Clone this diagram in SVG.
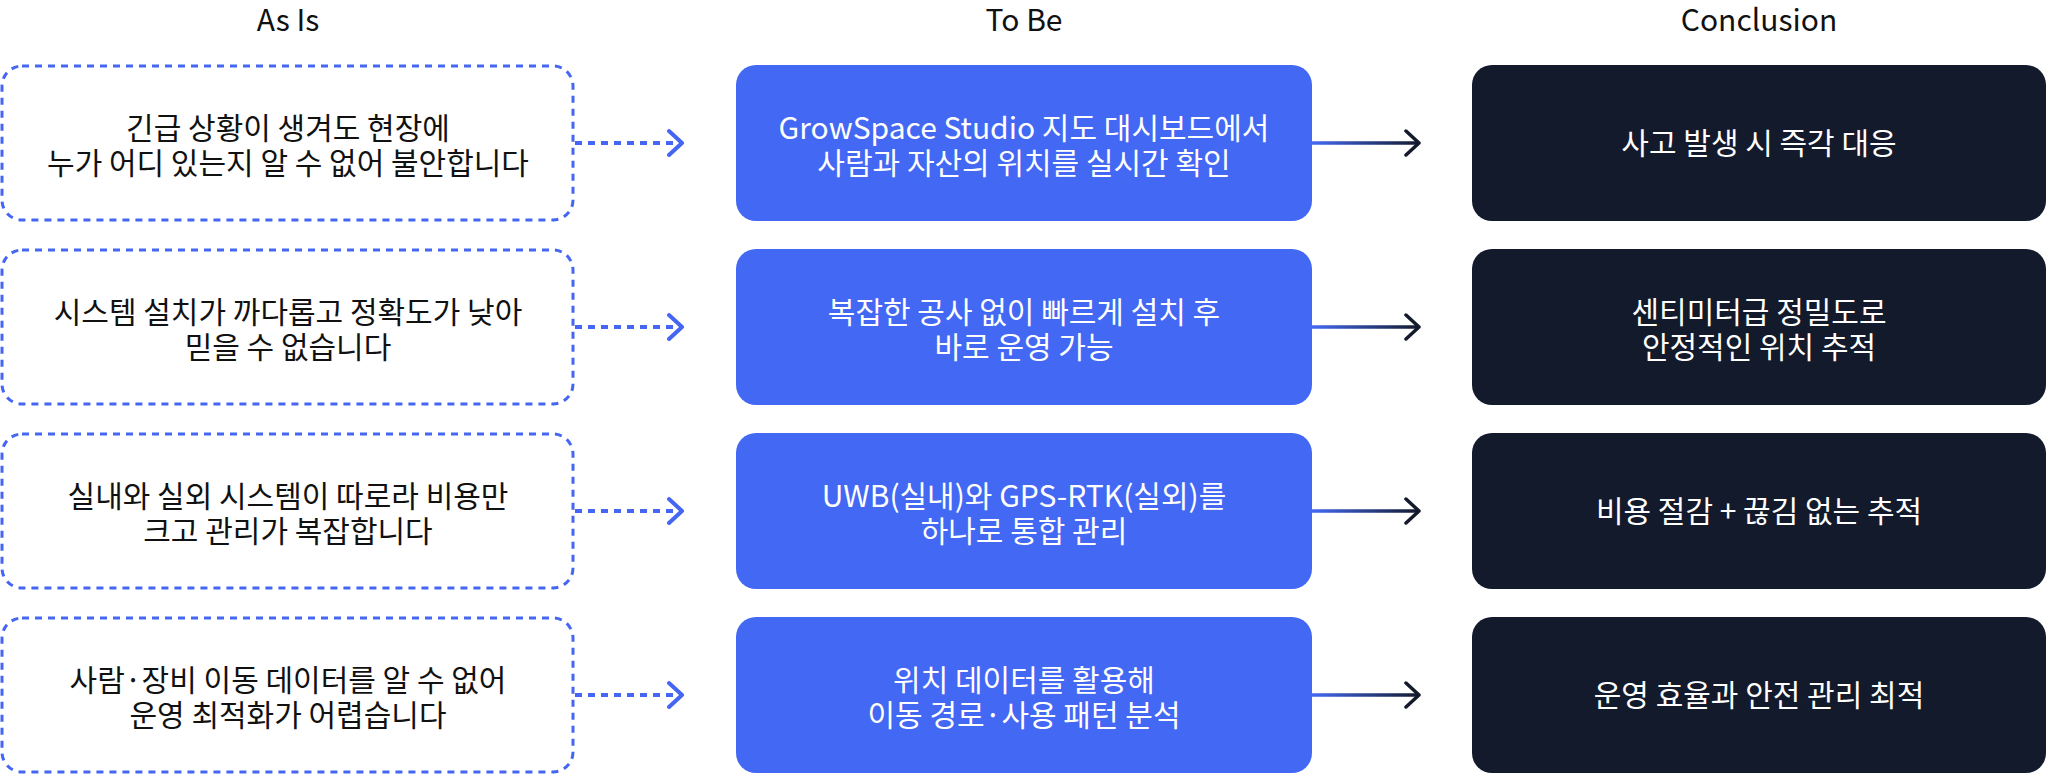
<svg xmlns="http://www.w3.org/2000/svg" width="2048" height="775" viewBox="0 0 2048 775">
  <style>
    text { font-family: "Noto Sans CJK KR", "Noto Sans", sans-serif; font-size: 30px; text-anchor: middle; }
    .title { fill: #111111; }
    .asis rect { fill: #ffffff; stroke: #4466f2; stroke-width: 3; stroke-dasharray: 7 6; }
    .asis text { fill: #111111; }
    .tobe rect { fill: #4368f4; }
    .tobe text { fill: #ffffff; }
    .concl rect { fill: #131a2b; }
    .concl text { fill: #ffffff; }
    .dotted { stroke: #4466f2; stroke-width: 4; stroke-dasharray: 7 6; fill: none; marker-end: url(#headBlue); }
    .solid { stroke: url(#grad); stroke-width: 3.5; fill: none; marker-end: url(#headDark); }
  </style>
  <defs>
    <linearGradient id="grad" gradientUnits="userSpaceOnUse" x1="1312" y1="0" x2="1419" y2="0">
      <stop offset="0" stop-color="#4368f4"/>
      <stop offset="1" stop-color="#131a2b"/>
    </linearGradient>
    <marker id="headBlue" markerUnits="userSpaceOnUse" markerWidth="20" markerHeight="32" refX="15" refY="15" orient="auto" viewBox="0 0 20 30">
      <path d="M2,3 L15,15 L2,27" fill="none" stroke="#4466f2" stroke-width="4" stroke-linecap="round" stroke-linejoin="round"/>
    </marker>
    <marker id="headDark" markerUnits="userSpaceOnUse" markerWidth="20" markerHeight="32" refX="15" refY="15" orient="auto" viewBox="0 0 20 30">
      <path d="M2,3 L15,15 L2,27" fill="none" stroke="#131a2b" stroke-width="3.5" stroke-linecap="round" stroke-linejoin="round"/>
    </marker>
  </defs>

  <g id="titles">
    <text class="title" x="288" y="31">As Is</text>
    <text class="title" x="1024" y="31">To Be</text>
    <text class="title" x="1759" y="31">Conclusion</text>
  </g>

  <g id="connectors">
    <line class="dotted" x1="575" y1="143" x2="682" y2="143"/>
    <line class="dotted" x1="575" y1="327" x2="682" y2="327"/>
    <line class="dotted" x1="575" y1="511" x2="682" y2="511"/>
    <line class="dotted" x1="575" y1="695" x2="682" y2="695"/>
    <line class="solid" x1="1312" y1="143" x2="1419" y2="143"/>
    <line class="solid" x1="1312" y1="327" x2="1419" y2="327"/>
    <line class="solid" x1="1312" y1="511" x2="1419" y2="511"/>
    <line class="solid" x1="1312" y1="695" x2="1419" y2="695"/>
  </g>

  <g id="asis1" class="asis">
    <rect x="2" y="66" width="571" height="154" rx="20"/>
    <text x="288" y="139">긴급 상황이 생겨도 현장에<tspan x="288" dy="35">누가 어디 있는지 알 수 없어 불안합니다</tspan></text>
  </g>
  <g id="asis2" class="asis">
    <rect x="2" y="250" width="571" height="154" rx="20"/>
    <text x="288" y="323">시스템 설치가 까다롭고 정확도가 낮아<tspan x="288" dy="35">믿을 수 없습니다</tspan></text>
  </g>
  <g id="asis3" class="asis">
    <rect x="2" y="434" width="571" height="154" rx="20"/>
    <text x="288" y="507">실내와 실외 시스템이 따로라 비용만<tspan x="288" dy="35">크고 관리가 복잡합니다</tspan></text>
  </g>
  <g id="asis4" class="asis">
    <rect x="2" y="618" width="571" height="154" rx="20"/>
    <text x="288" y="691">사람·장비 이동 데이터를 알 수 없어<tspan x="288" dy="35">운영 최적화가 어렵습니다</tspan></text>
  </g>

  <g id="tobe1" class="tobe">
    <rect x="736" y="65" width="576" height="156" rx="20"/>
    <text x="1024" y="139">GrowSpace Studio 지도 대시보드에서<tspan x="1024" dy="35">사람과 자산의 위치를 실시간 확인</tspan></text>
  </g>
  <g id="tobe2" class="tobe">
    <rect x="736" y="249" width="576" height="156" rx="20"/>
    <text x="1024" y="323">복잡한 공사 없이 빠르게 설치 후<tspan x="1024" dy="35">바로 운영 가능</tspan></text>
  </g>
  <g id="tobe3" class="tobe">
    <rect x="736" y="433" width="576" height="156" rx="20"/>
    <text x="1024" y="507">UWB(실내)와 GPS-RTK(실외)를<tspan x="1024" dy="35">하나로 통합 관리</tspan></text>
  </g>
  <g id="tobe4" class="tobe">
    <rect x="736" y="617" width="576" height="156" rx="20"/>
    <text x="1024" y="691">위치 데이터를 활용해<tspan x="1024" dy="35">이동 경로·사용 패턴 분석</tspan></text>
  </g>

  <g id="concl1" class="concl">
    <rect x="1472" y="65" width="574" height="156" rx="20"/>
    <text x="1759" y="154">사고 발생 시 즉각 대응</text>
  </g>
  <g id="concl2" class="concl">
    <rect x="1472" y="249" width="574" height="156" rx="20"/>
    <text x="1759" y="323">센티미터급 정밀도로<tspan x="1759" dy="35">안정적인 위치 추적</tspan></text>
  </g>
  <g id="concl3" class="concl">
    <rect x="1472" y="433" width="574" height="156" rx="20"/>
    <text x="1759" y="522">비용 절감 + 끊김 없는 추적</text>
  </g>
  <g id="concl4" class="concl">
    <rect x="1472" y="617" width="574" height="156" rx="20"/>
    <text x="1759" y="706">운영 효율과 안전 관리 최적</text>
  </g>
</svg>
